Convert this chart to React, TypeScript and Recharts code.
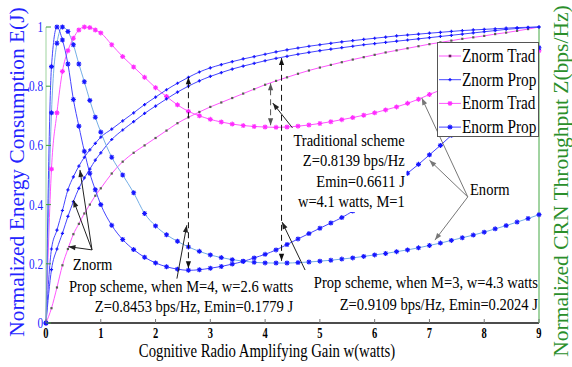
import React from "react";
import {
  ComposedChart,
  Line,
  XAxis,
  YAxis,
  Legend,
  ReferenceArea,
  ReferenceDot,
  ReferenceLine,
} from "recharts";

if (typeof document !== "undefined") document.body.style.margin = "0";

// Amplifying gain w (watts) sample points.
const W = [
  0, 0.1, 0.2, 0.3, 0.4, 0.5, 0.6, 0.7, 0.8, 0.9, 1.0,
  1.2, 1.4, 1.6, 1.8, 2.0, 2.2, 2.4, 2.6, 2.8, 3.0, 3.2, 3.4, 3.6, 3.8, 4.0,
  4.2, 4.4, 4.6, 4.8, 5.0, 5.2, 5.4, 5.6, 5.8, 6.0, 6.2, 6.4, 6.6, 6.8, 7.0,
  7.2, 7.4, 7.6, 7.8, 8.0, 8.2, 8.4, 8.6, 8.8, 9.0,
];

const ZNORM_TRAD = [
  0, 0.05, 0.12, 0.195, 0.25, 0.3, 0.335, 0.37, 0.4, 0.43, 0.455,
  0.505, 0.545, 0.575, 0.6, 0.625, 0.65, 0.675, 0.695, 0.713, 0.73, 0.745, 0.76, 0.775, 0.79, 0.805,
  0.818, 0.83, 0.842, 0.853, 0.863, 0.872, 0.881, 0.89, 0.898, 0.906, 0.914, 0.921, 0.928, 0.935, 0.942,
  0.948, 0.954, 0.96, 0.965, 0.97, 0.976, 0.981, 0.987, 0.993, 1.0,
];

const ZNORM_PROP_M4 = [
  0, 0.25, 0.314, 0.38, 0.45, 0.494, 0.53, 0.56, 0.585, 0.607, 0.628,
  0.655, 0.683, 0.71, 0.738, 0.763, 0.788, 0.81, 0.83, 0.848, 0.862, 0.873, 0.883, 0.892, 0.9, 0.908,
  0.916, 0.923, 0.929, 0.935, 0.94, 0.945, 0.95, 0.954, 0.958, 0.962, 0.966, 0.97, 0.973, 0.976, 0.979,
  0.982, 0.985, 0.988, 0.99, 0.992, 0.994, 0.996, 0.998, 0.999, 1.0,
];

const ZNORM_PROP_M3 = [
  0, 0.18, 0.25, 0.303, 0.36, 0.41, 0.455, 0.49, 0.52, 0.55, 0.575,
  0.62, 0.652, 0.68, 0.708, 0.733, 0.757, 0.78, 0.8, 0.818, 0.833, 0.846, 0.858, 0.868, 0.877, 0.886,
  0.894, 0.901, 0.908, 0.914, 0.92, 0.925, 0.93, 0.935, 0.94, 0.944, 0.948, 0.952, 0.956, 0.96, 0.964,
  0.968, 0.972, 0.976, 0.98, 0.984, 0.988, 0.992, 0.995, 0.998, 1.0,
];

const ENORM_TRAD = [
  0, 0.52, 0.71, 0.85, 0.92, 0.962, 0.99, 1.0, 0.998, 0.99, 0.98,
  0.94, 0.9, 0.865, 0.83, 0.795, 0.765, 0.737, 0.715, 0.7, 0.688, 0.679, 0.672, 0.667, 0.664, 0.662,
  0.661, 0.662, 0.665, 0.669, 0.674, 0.68, 0.687, 0.694, 0.702, 0.71, 0.72, 0.73, 0.742, 0.756, 0.772,
  0.787, 0.8, 0.815, 0.83, 0.845, 0.86, 0.875, 0.89, 0.905, 0.92,
];

const ENORM_PROP_M4 = [
  0, 0.866, 1.0, 0.956, 0.875, 0.755, 0.665, 0.58, 0.506, 0.45, 0.4,
  0.33, 0.282, 0.248, 0.222, 0.203, 0.19, 0.182, 0.178, 0.18, 0.185, 0.191, 0.199, 0.208, 0.22, 0.232,
  0.247, 0.265, 0.284, 0.302, 0.32, 0.338, 0.356, 0.378, 0.402, 0.427, 0.452, 0.478, 0.506, 0.536, 0.568,
  0.6, 0.634, 0.668, 0.703, 0.739, 0.776, 0.813, 0.851, 0.89, 0.93,
];

const ENORM_PROP_M3 = [
  0, 0.71, 0.945, 1.0, 0.985, 0.94, 0.875, 0.815, 0.752, 0.695, 0.645,
  0.56, 0.5, 0.44, 0.37, 0.328, 0.298, 0.276, 0.257, 0.242, 0.23, 0.221, 0.214, 0.209, 0.205, 0.203,
  0.2025, 0.2025, 0.204, 0.206, 0.209, 0.212, 0.216, 0.22, 0.225, 0.23, 0.235, 0.241, 0.247, 0.254, 0.262,
  0.27, 0.279, 0.288, 0.297, 0.307, 0.318, 0.329, 0.341, 0.353, 0.366,
];

const X_TICKS = [0, 1, 2, 3, 4, 5, 6, 7, 8, 9];
const Y_TICKS = [0, 0.2, 0.4, 0.6, 0.8, 1];

const NOTES = [
  { x: 6.55, y: 0.598, anchor: "end", gap: 20.4, lines: ["Traditional scheme", "Z=0.8139 bps/Hz", "Emin=0.6611 J", "w=4.1 watts, M=1"] },
  { x: 4.51, y: 0.105, anchor: "end", gap: 20.5, lines: ["Prop scheme, when M=4, w=2.6 watts", "Z=0.8453 bps/Hz, Emin=0.1779 J"] },
  { x: 8.98, y: 0.118, anchor: "end", gap: 21.5, lines: ["Prop scheme, when M=3, w=4.3 watts", "Z=0.9109 bps/Hz, Emin=0.2024 J"] },
  { x: 0.49, y: 0.179, anchor: "start", gap: 0, lines: ["Znorm"] },
  { x: 7.74, y: 0.432, anchor: "start", gap: 0, lines: ["Enorm"] },
];

// [x1, y1, x2, y2] in data units; the head sits on the second point.
const DASHED_ARROWS = [
  [2.6, 0.185, 2.6, 0.83],
  [4.3, 0.21, 4.3, 0.895],
  [4.1, 0.668, 4.1, 0.81],
];
const POINTER_ARROWS = [
  [2.39, 0.15, 2.57, 0.33],
  [4.73, 0.179, 4.31, 0.341],
  [4.5, 0.659, 4.14, 0.743],
  [0.84, 0.247, 0.62, 0.517],
  [0.84, 0.247, 0.5, 0.415],
  [0.84, 0.247, 0.41, 0.258],
  [7.7, 0.426, 6.86, 0.76],
  [7.7, 0.426, 7.0, 0.55],
  [7.7, 0.426, 7.1, 0.28],
];

const SERIF = "'Liberation Serif', 'Times New Roman', serif";
const MAGENTA = "#ff55ff";
const MAGENTA_MARK = "#ff2bff";
const BLUE_LINE = "#4545ff";
const LIGHT_BLUE = "#74aee6";
const BLUE_MARK = "#1616ff";
const DARK_PIP = "#55604f";
const AXIS_BLUE = "#2323ff";
const AXIS_GREEN = "#2b8f2b";

const rows = W.map((w, i) => ({
  w,
  zt: ZNORM_TRAD[i],
  zp4: ZNORM_PROP_M4[i],
  zp3: ZNORM_PROP_M3[i],
  et: ENORM_TRAD[i],
  ep4: ENORM_PROP_M4[i],
  ep3: ENORM_PROP_M3[i],
}));

function SText({ x, y, size, sx = 1, anchor = "start", fill = "#000", weight = "normal", rotate = 0, children }: any) {
  const t = `translate(${x},${y}) scale(${sx},1)` + (rotate ? ` rotate(${rotate})` : "");
  return (
    <text transform={t} fontFamily={SERIF} fontSize={size} fontWeight={weight} fill={fill} textAnchor={anchor}>
      {children}
    </text>
  );
}

// Axis title; own prop names so the Label clone can't move it.
function AxisTitle({ at, text, size, sx = 1, rotate = 0, fill = "#000" }: any) {
  return (
    <SText x={at[0]} y={at[1]} size={size} sx={sx} anchor="middle" rotate={rotate} fill={fill}>
      {text}
    </SText>
  );
}

function Star({ cx, cy, color, s = 2.5 }: any) {
  const d = s * 0.72;
  return (
    <path
      d={`M${cx - s},${cy}H${cx + s}M${cx},${cy - s}V${cy + s}M${cx - d},${cy - d}L${cx + d},${cy + d}M${cx - d},${cy + d}L${cx + d},${cy - d}`}
      stroke={color}
      strokeWidth={1.1}
      fill="none"
    />
  );
}

function Plus({ cx, cy, color, s = 1.6 }: any) {
  return <path d={`M${cx - s},${cy}H${cx + s}M${cx},${cy - s}V${cy + s}`} stroke={color} strokeWidth={1.2} fill="none" />;
}

function Pip({ cx, cy, color, s = 1.1 }: any) {
  return <rect x={cx - s} y={cy - s} width={2 * s} height={2 * s} fill={color} />;
}

const MARKS: Record<string, any> = { star: Star, plus: Plus, pip: Pip };

const SERIES = [
  { key: "zt", stroke: MAGENTA, mark: "pip", color: DARK_PIP, s: 1.1 },
  { key: "et", stroke: MAGENTA, mark: "star", color: MAGENTA_MARK, s: 2.5 },
  { key: "zp4", stroke: BLUE_LINE, mark: "plus", color: BLUE_MARK, s: 1.6 },
  { key: "zp3", stroke: BLUE_LINE, mark: "plus", color: BLUE_MARK, s: 1.6 },
  { key: "ep3", stroke: LIGHT_BLUE, mark: "star", color: BLUE_MARK, s: 2.5 },
  { key: "ep4", stroke: BLUE_LINE, mark: "star", color: BLUE_MARK, s: 2.5 },
];

const LEGEND_ROWS = [
  { label: "Znorm Trad", stroke: MAGENTA, mark: "pip", color: "#6a1b5e", s: 1.3 },
  { label: "Znorm Prop", stroke: BLUE_LINE, mark: "plus", color: BLUE_MARK, s: 1.6 },
  { label: "Enorm Trad", stroke: MAGENTA, mark: "star", color: MAGENTA_MARK, s: 2.5 },
  { label: "Enorm Prop", stroke: BLUE_LINE, mark: "star", color: BLUE_MARK, s: 2.5 },
];

function LegendBox() {
  return (
    <div style={{ width: 102, height: 95, boxSizing: "border-box", border: "1px solid #555", background: "#fff" }}>
      <svg width={100} height={93} style={{ display: "block" }}>
        {LEGEND_ROWS.map((r, i) => {
          const y = 13 + i * 23.7;
          const Mark = MARKS[r.mark];
          return (
            <g key={r.label}>
              <line x1={1} x2={23} y1={y} y2={y} stroke={r.stroke} />
              <Mark cx={12} cy={y} color={r.color} s={r.s} />
              <SText x={24} y={y + 6} size={18} sx={0.85}>
                {r.label}
              </SText>
            </g>
          );
        })}
      </svg>
    </div>
  );
}

function Arrow({ x1, y1, x2, y2, dashed = false, color = "#222" }: any) {
  if ([x1, y1, x2, y2].some((v) => v == null || Number.isNaN(v))) return <g />;
  const head = (tx: number, ty: number, fx: number, fy: number) => {
    const a = Math.atan2(ty - fy, tx - fx);
    const L = 7;
    const h = 2.6;
    const bx = tx - L * Math.cos(a);
    const by = ty - L * Math.sin(a);
    return `${tx},${ty} ${bx - h * Math.sin(a)},${by + h * Math.cos(a)} ${bx + h * Math.sin(a)},${by - h * Math.cos(a)}`;
  };
  return (
    <g>
      <line x1={x1} y1={y1} x2={x2} y2={y2} stroke={color} strokeWidth={1} strokeDasharray={dashed ? "6 4" : undefined} />
      <polygon points={head(x2, y2, x1, y1)} fill={color} />
      {dashed && <polygon points={head(x1, y1, x2, y2)} fill={color} />}
    </g>
  );
}

function Note({ cx, cy, note }: any) {
  if (cx == null || cy == null) return <g />;
  return (
    <g>
      {note.lines.map((t: string, i: number) => (
        <SText key={t} x={cx} y={cy + i * note.gap} size={16} sx={0.91} anchor={note.anchor}>
          {t}
        </SText>
      ))}
    </g>
  );
}

function LeftTick({ x, y, payload }: any) {
  return (
    <g>
      <line x1={x + 3} x2={x + 8} y1={y} y2={y} stroke="#3c9c3c" />
      <SText x={x} y={y + 5} size={15} sx={0.75} anchor="end" fill={AXIS_BLUE}>
        {String(payload.value)}
      </SText>
    </g>
  );
}

function RightTick({ x, y, payload }: any) {
  return (
    <g>
      <line x1={x - 7} x2={x - 2} y1={y} y2={y} stroke={AXIS_GREEN} />
      <SText x={x} y={y + 5} size={15} sx={0.75} fill={AXIS_GREEN}>
        {String(payload.value)}
      </SText>
    </g>
  );
}

function BottomTick({ x, y, payload }: any) {
  return (
    <g>
      <line x1={x} x2={x} y1={y} y2={y - 4} stroke="#777" />
      <SText x={x} y={y + 15} size={14} sx={0.75} anchor="middle" weight="bold">
        {String(payload.value)}
      </SText>
    </g>
  );
}

function TopTick({ x, y }: any) {
  return <line x1={x} x2={x} y1={y} y2={y + 5} stroke="#888" />;
}

export default function App() {
  return (
    <div style={{ width: 572, height: 367, background: "#fff" }}>
      <ComposedChart width={572} height={367} data={rows} margin={{ top: 27, right: 0, bottom: 0, left: 0 }}>
        <XAxis
          dataKey="w"
          type="number"
          domain={[0, 9]}
          ticks={X_TICKS}
          height={44}
          tickSize={0}
          tickMargin={0}
          tickLine={false}
          axisLine={{ stroke: "#111", strokeWidth: 1.4 }}
          tick={<BottomTick />}
          label={<AxisTitle at={[267, 357]} size={18} sx={0.82} text="Cognitive Radio Amplifying Gain w(watts)" />}
        />
        <XAxis
          xAxisId="top"
          orientation="top"
          dataKey="w"
          type="number"
          domain={[0, 9]}
          ticks={X_TICKS}
          height={0}
          tickSize={0}
          tickMargin={0}
          tickLine={false}
          axisLine={{ stroke: "#222" }}
          tick={<TopTick />}
        />
        <YAxis
          domain={[0, 1]}
          ticks={Y_TICKS}
          width={46}
          tickSize={0}
          tickMargin={3}
          tickLine={false}
          axisLine={{ stroke: "#9fd49f" }}
          tick={<LeftTick />}
          label={
            <AxisTitle at={[24, 172]} size={21.4} rotate={-90} fill={AXIS_BLUE} text="Normalized Energy Consumption E(J)" />
          }
        />
        <YAxis
          yAxisId="right"
          orientation="right"
          domain={[0, 1]}
          ticks={Y_TICKS}
          width={33}
          tickSize={0}
          tickMargin={2}
          tickLine={false}
          axisLine={{ stroke: "#45a845" }}
          tick={<RightTick />}
          label={
            <AxisTitle at={[568, 181]} size={21.5} rotate={-90} fill={AXIS_GREEN} text="Normalized CRN Throughput Z(bps/Hz)" />
          }
        />

        {SERIES.map((s) => {
          const Mark = MARKS[s.mark];
          return (
            <Line
              key={s.key}
              dataKey={s.key}
              type="monotone"
              stroke={s.stroke}
              strokeWidth={1}
              isAnimationActive={false}
              activeDot={false}
              dot={(p: any) =>
                p.cx == null ? (
                  <g key={`${s.key}-${p.index}`} />
                ) : (
                  <Mark key={`${s.key}-${p.index}`} cx={p.cx} cy={p.cy} color={s.color} s={s.s} />
                )
              }
            />
          );
        })}

        <ReferenceArea x1={4.5} x2={6.58} y1={0.375} y2={0.65} fill="#fff" fillOpacity={1} stroke="none" zIndex={650} />

        {DASHED_ARROWS.map((a, i) => (
          <ReferenceLine
            key={`d${i}`}
            segment={[{ x: a[0], y: a[1] }, { x: a[2], y: a[3] }]}
            zIndex={700}
            shape={(p: any) => <Arrow {...p} dashed color={i === 2 ? "#555" : "#111"} />}
          />
        ))}
        {POINTER_ARROWS.map((a, i) => (
          <ReferenceLine
            key={`p${i}`}
            segment={[{ x: a[0], y: a[1] }, { x: a[2], y: a[3] }]}
            zIndex={700}
            shape={(p: any) => <Arrow {...p} color={i >= 6 ? "#777" : "#222"} />}
          />
        ))}
        {NOTES.map((n, i) => (
          <ReferenceDot
            key={`n${i}`}
            x={n.x}
            y={n.y}
            r={0}
            zIndex={750}
            shape={(p: any) => <Note cx={p.cx} cy={p.cy} note={n} />}
          />
        ))}

        <Legend
          layout="vertical"
          align="center"
          verticalAlign="middle"
          wrapperStyle={{ left: 437, top: 42, width: 102, height: 95 }}
          content={() => <LegendBox />}
        />
      </ComposedChart>
    </div>
  );
}
